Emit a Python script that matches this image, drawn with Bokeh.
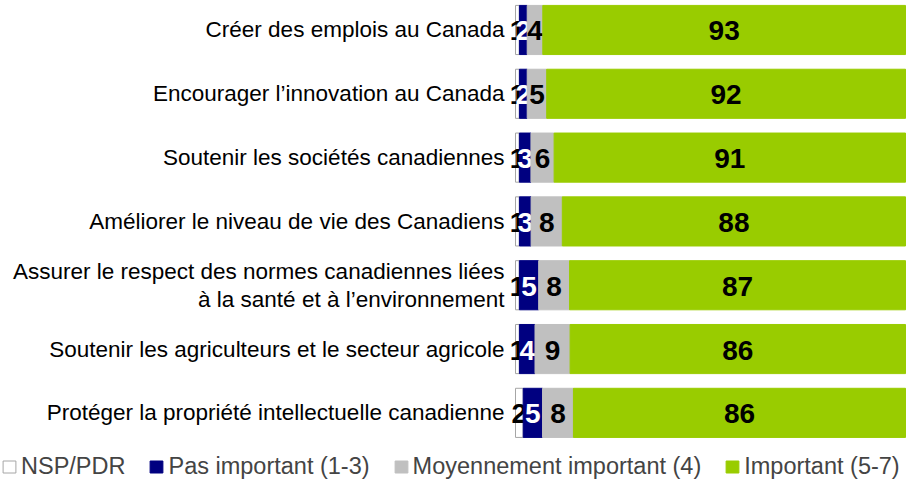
from bokeh.plotting import figure
from bokeh.models import ColumnDataSource, Range1d, Legend, LegendItem
from bokeh.core.properties import value
from bokeh.embed import file_html
from bokeh.resources import INLINE

categories = [
    "Créer des emplois au Canada",
    "Encourager l’innovation au Canada",
    "Soutenir les sociétés canadiennes",
    "Améliorer le niveau de vie des Canadiens",
    "Assurer le respect des normes canadiennes liées\nà la santé et à l’environnement",
    "Soutenir les agriculteurs et le secteur agricole",
    "Protéger la propriété intellectuelle canadienne",
]
series_names = ["NSP/PDR", "Pas important (1-3)", "Moyennement important (4)", "Important (5-7)"]
nsp = [1, 1, 1, 1, 1, 1, 2]
pas_important = [2, 2, 3, 3, 5, 4, 5]
moyennement = [4, 5, 6, 8, 8, 9, 8]
important = [93, 92, 91, 88, 87, 86, 86]

colors = ["#FFFFFF", "#000080", "#C0C0C0", "#99CC00"]
line_colors = ["#A6A6A6", "#000080", "#C0C0C0", "#99CC00"]
label_colors = ["black", "white", "black", "black"]

series = [nsp, pas_important, moyennement, important]
n = len(categories)
ys = [n - 1 - i for i in range(n)]
totals = [sum(s[i] for s in series) for i in range(n)]

W, H = 918, 483
p = figure(width=W, height=H, output_backend="svg", toolbar_location=None,
           x_axis_location=None, y_axis_location=None, min_border=0,
           x_range=Range1d(-132.05, 103.33), y_range=Range1d(-1.107, 6.462))
p.outline_line_color = None
p.xgrid.visible = False
p.ygrid.visible = False
p.background_fill_color = "white"

FONT = "Liberation Sans"

left = [0.0] * n
items = []
for k, s in enumerate(series):
    widths = [s[i] / totals[i] * 100 for i in range(n)]
    right = [left[i] + widths[i] for i in range(n)]
    src = ColumnDataSource(dict(y=ys, left=list(left), right=right,
                                mid=[(left[i] + right[i]) / 2 for i in range(n)],
                                lab=[str(v) for v in s]))
    r = p.hbar(y="y", left="left", right="right", height=0.77, source=src,
               fill_color=colors[k], line_color=line_colors[k], line_width=1)
    items.append(LegendItem(label=series_names[k], renderers=[r]))
    left = right
    p.text(x="mid", y="y", text="lab", source=src, text_align="center",
           text_baseline="middle", text_font=value(FONT), text_font_style="bold",
           text_font_size="28px", text_color=label_colors[k], y_offset=1)

cat_src = ColumnDataSource(dict(y=ys, x=[0] * n, t=categories))
p.text(x="x", y="y", text="t", source=cat_src, text_align="right",
       text_baseline="middle", text_font=value(FONT), text_font_size="22.5px",
       text_color="black", x_offset=-11, text_line_height=1.12)

legend = Legend(items=items, orientation="horizontal", location=(1, 3),
                label_text_font=FONT, label_text_font_size="23.5px",
                glyph_width=16, glyph_height=15, label_standoff=4, spacing=23,
                padding=0, margin=0, border_line_color=None,
                background_fill_alpha=0)
p.add_layout(legend, "center")

open("out.html", "w").write(file_html(p, INLINE))
